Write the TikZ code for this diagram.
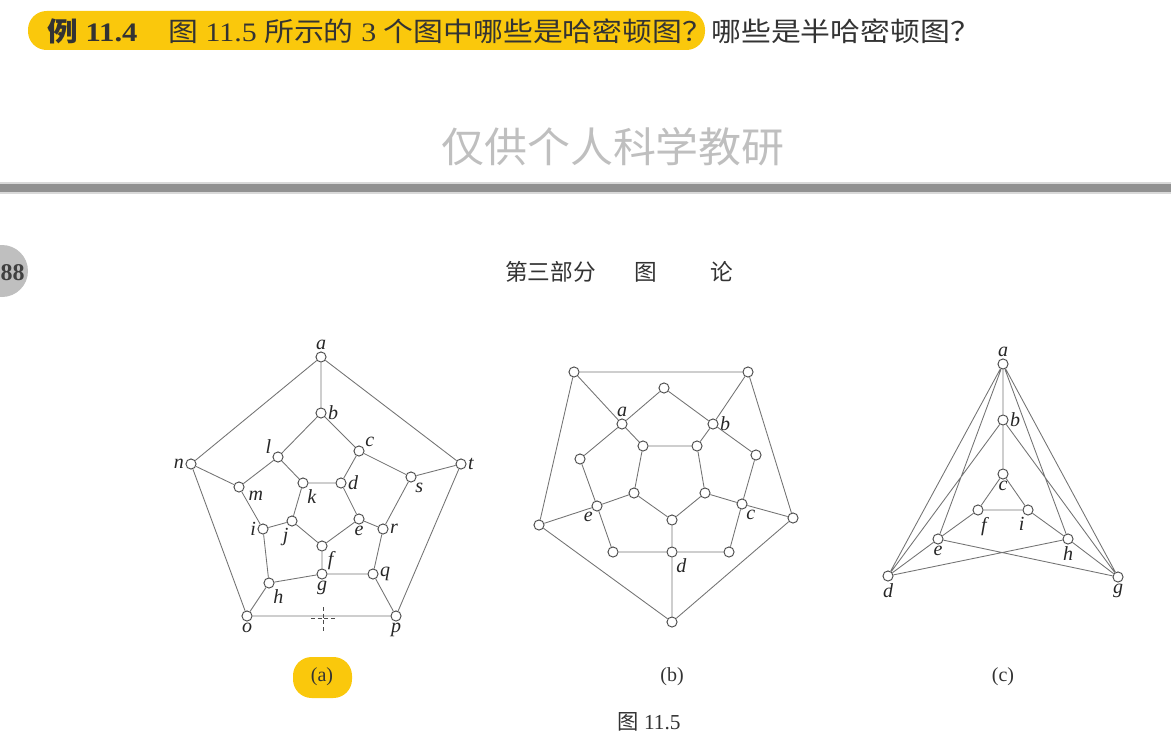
\documentclass[tikz,border=0pt]{standalone}
\usepackage{graphicx}
\usepackage{fontspec}
\setmainfont{Liberation Serif}
\newfontfamily\cjk{Noto Sans CJK SC}
\definecolor{hl}{RGB}{250,200,12}
\definecolor{rulegray}{RGB}{145,145,145}
\tikzset{
  vtx/.style={circle,draw=black!70,fill=white,line width=0.7pt,minimum size=7.6pt,inner sep=0pt},
  edg/.style={draw=black!55,line width=0.65pt},
  every label/.style={font=\fontsize{15}{15}\selectfont\itshape,text=black!85,inner sep=1pt},
  txt/.style={inner sep=0pt,text=black!80}
}
\begin{document}
\begin{tikzpicture}[x=0.75pt,y=-0.75pt]
\useasboundingbox (0,0) rectangle (1171,749);
% header
\fill[hl,rounded corners=14pt] (28,11) rectangle (705,50);
\node[txt,anchor=west,font=\fontsize{20}{20}\selectfont] (h1) at (47,31) {\scalebox{1.15}[1]{{\cjk\bfseries 例} \textbf{11.4}}};
\node[txt,anchor=west,font=\fontsize{20}{20}\selectfont] (h2) at (168,31) {\scalebox{1.12}[1]{{\cjk 图} 11.5 {\cjk 所示的} 3 {\cjk 个图中哪些是哈密顿图？}}};
\node[txt,anchor=west,font=\fontsize{20}{20}\selectfont] (h3) at (711,31) {\scalebox{1.12}[1]{\cjk 哪些是半哈密顿图？}};
% watermark
\node[inner sep=0pt,text=black!25,font=\cjk\fontsize{31}{31}\selectfont] (wm) at (613,147) {\scalebox{1.04}[1]{仅供个人科学教研}};
% rule
\fill[black!15] (0,182) rectangle (1171,194);
\fill[rulegray] (0,184) rectangle (1171,192);
% page number
\fill[black!25] (2,271) circle (19.5pt);
\node[inner sep=0pt,text=black!75,font=\bfseries\fontsize{18}{18}\selectfont] (pg) at (12.5,273) {88};
\node[txt,font=\cjk\fontsize{17}{17}\selectfont,anchor=west] (t1) at (505,272) {第三部分};
\node[txt,font=\cjk\fontsize{17}{17}\selectfont] (t2) at (646,272) {图};
\node[txt,font=\cjk\fontsize{17}{17}\selectfont] (t3) at (722,272) {论};

% ---------- graph (a)
\node[vtx,label=above:a] (Aa) at (321,357) {};
\node[vtx,label=right:b] (Ab) at (321,413) {};
\node[vtx,label=30:c] (Ac) at (359,451) {};
\node[vtx,label=160:l] (Al) at (278,457) {};
\node[vtx,label=left:n] (An) at (191,464) {};
\node[vtx,label=right:t] (At) at (461,464) {};
\node[vtx,label={[label distance=2pt]-15:m}] (Am) at (239,487) {};
\node[vtx,label=-60:k] (Ak) at (303,483) {};
\node[vtx,label=right:d] (Ad) at (341,483) {};
\node[vtx,label=-60:s] (As) at (411,477) {};
\node[vtx,label=left:i] (Ai) at (263,529) {};
\node[vtx,label=-110:j] (Aj) at (292,521) {};
\node[vtx,label=below:e] (Ae) at (359,519) {};
\node[vtx,label=right:r] (Ar) at (383,529) {};
\node[vtx,label=-40:f] (Af) at (322,546) {};
\node[vtx,label=below:g] (Ag) at (322,574) {};
\node[vtx,label=-60:h] (Ah) at (269,583) {};
\node[vtx,label=right:q] (Aq) at (373,574) {};
\node[vtx,label=below:o] (Ao) at (247,616) {};
\node[vtx,label=below:p] (Ap) at (396,616) {};
\draw[edg] (Aa)--(Ab) (Aa)--(An) (Aa)--(At) (Ab)--(Al) (Ab)--(Ac)
  (Al)--(Am) (Al)--(Ak) (Ac)--(Ad) (Ac)--(As) (An)--(Am) (An)--(Ao)
  (At)--(As) (At)--(Ap) (Ak)--(Ad) (Ak)--(Aj) (Ad)--(Ae) (Am)--(Ai)
  (As)--(Ar) (Ai)--(Aj) (Aj)--(Af) (Ae)--(Af) (Ae)--(Ar) (Af)--(Ag)
  (Ai)--(Ah) (Ar)--(Aq) (Ah)--(Ag) (Ag)--(Aq) (Ah)--(Ao) (Aq)--(Ap) (Ao)--(Ap);
% cursor mark
\draw[black!70,line width=0.6pt,dash pattern=on 3pt off 2pt] (323,607)--(323,632) (311,618)--(336,618);

% ---------- graph (b)
\node[vtx] (Btl) at (574,372) {};
\node[vtx] (Btr) at (748,372) {};
\node[vtx] (Bl) at (539,525) {};
\node[vtx] (Br) at (793,518) {};
\node[vtx] (Bb) at (672,622) {};
\node[vtx] (Bt) at (664,388) {};
\node[vtx,label=above:a] (Ba) at (622,424) {};
\node[vtx,label=right:b] (Bbb) at (713,424) {};
\node[vtx] (Bml) at (580,459) {};
\node[vtx] (Bmr) at (756,455) {};
\node[vtx,label=-120:e] (Be) at (597,506) {};
\node[vtx,label=-60:c] (Bc) at (742,504) {};
\node[vtx] (Bbl) at (613,552) {};
\node[vtx,label=-60:d] (Bd) at (672,552) {};
\node[vtx] (Bbr) at (729,552) {};
\node[vtx] (Bi1) at (643,446) {};
\node[vtx] (Bi2) at (697,446) {};
\node[vtx] (Bi3) at (634,493) {};
\node[vtx] (Bi4) at (705,493) {};
\node[vtx] (Bi5) at (672,520) {};
\draw[edg] (Btl)--(Btr) (Btl)--(Bl) (Btr)--(Br) (Bl)--(Bb) (Br)--(Bb)
  (Btl)--(Ba) (Btr)--(Bbb) (Bl)--(Be) (Br)--(Bc) (Bb)--(Bd)
  (Bt)--(Ba) (Bt)--(Bbb) (Ba)--(Bml) (Ba)--(Bi1) (Bbb)--(Bmr) (Bbb)--(Bi2)
  (Bml)--(Be) (Bmr)--(Bc) (Be)--(Bi3) (Bc)--(Bi4) (Be)--(Bbl) (Bc)--(Bbr)
  (Bbl)--(Bd) (Bd)--(Bbr) (Bd)--(Bi5)
  (Bi1)--(Bi2) (Bi1)--(Bi3) (Bi2)--(Bi4) (Bi3)--(Bi5) (Bi4)--(Bi5);

% ---------- graph (c)
\node[vtx,label=above:a] (Ca) at (1003,364) {};
\node[vtx,label=right:b] (Cb) at (1003,420) {};
\node[vtx,label=below:c] (Cc) at (1003,474) {};
\node[vtx,label=-75:f] (Cf) at (978,510) {};
\node[vtx,label=-110:i] (Ci) at (1028,510) {};
\node[vtx,label=below:e] (Ce) at (938,539) {};
\node[vtx,label=below:h] (Ch) at (1068,539) {};
\node[vtx,label=below:d] (Cd) at (888,576) {};
\node[vtx,label=below:g] (Cg) at (1118,577) {};
\draw[edg] (Ca)--(Cb) (Cb)--(Cc) (Cc)--(Cf) (Cc)--(Ci) (Cf)--(Ci)
  (Ce)--(Cf) (Ch)--(Ci) (Ca)--(Cd) (Ca)--(Cg) (Ca)--(Ce) (Ca)--(Ch)
  (Cb)--(Cd) (Cb)--(Cg) (Cd)--(Ce) (Cg)--(Ch) (Cd)--(Ch) (Ce)--(Cg);

% captions
\fill[hl,rounded corners=14pt] (293,657) rectangle (352,698);
\node[txt,font=\fontsize{15}{15}\selectfont] (ca) at (322,677) {(a)};
\node[txt,font=\fontsize{15}{15}\selectfont] (cb) at (672,677) {(b)};
\node[txt,font=\fontsize{15}{15}\selectfont] (cc) at (1003,677) {(c)};
\node[txt,font=\fontsize{16}{16}\selectfont] (fig) at (649,722) {{\cjk 图} 11.5};
\end{tikzpicture}
\end{document}
